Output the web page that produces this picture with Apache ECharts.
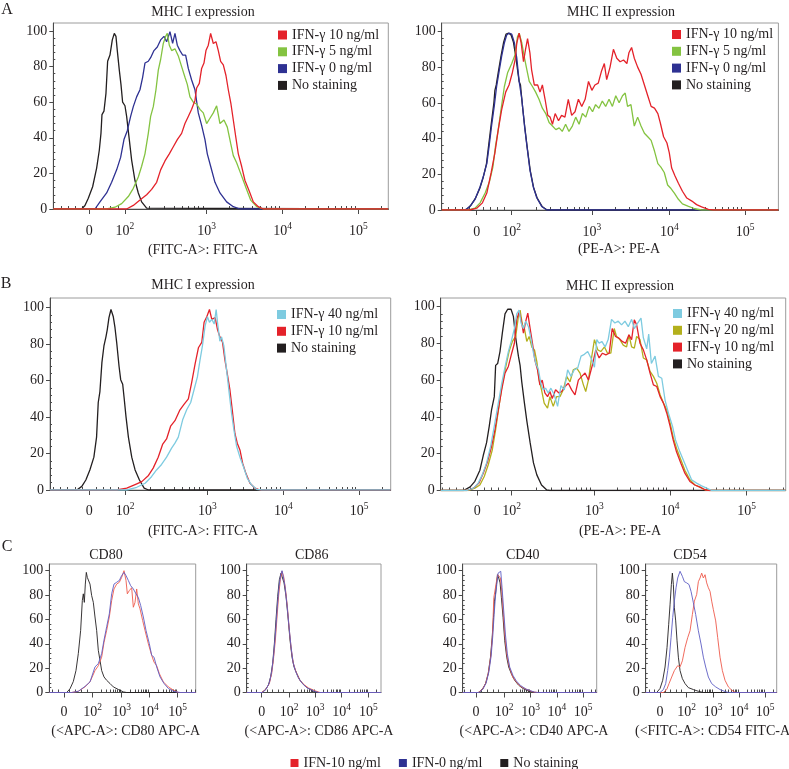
<!DOCTYPE html>
<html>
<head>
<meta charset="utf-8">
<script src="https://cdn.jsdelivr.net/npm/echarts@6/dist/echarts.min.js"></script>
<style>
  html, body { margin: 0; padding: 0; background: #fff; }
  #chart { width: 789px; height: 769px; }
</style>
</head>
<body>
<div id="chart"></div>
<script>
// flow histograms: x = display channel (logicle axis), y = % of max

// ---- tick positions (channel units) for 0, 10^2 .. 10^5 ----
const tickNames = ['0', '10|2', '10|3', '10|4', '10|5'];
const ticksA1 = [108, 215, 460, 688, 915];
const ticksA2 = [104, 208, 446, 676, 901];
const ticksB1 = [117, 224, 470, 697, 923];
const ticksB2 = [109, 212, 459, 685, 913];
const ticksCD80 = [44, 130, 217, 300, 385];
const ticksCD86 = [45, 127, 205, 285, 365];
const ticksCD40 = [40, 125, 205, 285, 364];
const ticksCD54 = [43, 123, 202, 280, 358];
const yTicks = [0, 20, 40, 60, 80, 100];

// ---- A, MHC I ----
const a1Black = [[0,0],[85,0],[95,2],[105,6],[118,12.5],[130,23],[138,33],[143,42.5],[146,53],[152,55],[158,65],[163,83],[170,86.5],[177,95],[183,98.7],[188,97],[192,89],[198,78],[203,70],[208,60],[215,58],[220,52],[228,39],[235,27.5],[245,16],[255,9],[265,4],[280,0.5],[285,0],[1005,0]];
const a1Blue = [[0,0],[125,0],[140,4],[160,9],[175,15],[190,22],[202,29],[212,39],[222,44],[232,52],[240,57.5],[250,63],[260,67],[268,74],[275,82],[285,83],[292,85],[302,89],[312,91],[322,95],[332,97],[340,94],[350,99.6],[358,93],[365,98.7],[372,92],[380,89],[388,86.5],[397,86.5],[405,79],[415,72.5],[425,67],[435,54],[445,47],[455,39],[462,31],[472,24],[485,15],[500,9],[520,4],[540,1.3],[560,0],[1005,0]];
const a1Green = [[0,0],[160,0],[185,1],[205,3],[225,7],[240,11.6],[255,18],[265,24],[275,31],[285,42.5],[292,52],[300,57.5],[308,67],[315,78],[322,84],[330,93],[337,97],[342,98.7],[348,92],[355,89],[365,90],[375,86],[385,80],[395,74],[402,70],[410,63],[420,60],[430,59],[440,56],[450,54],[460,48],[470,51],[480,54],[490,58],[500,48],[512,50],[522,46],[532,37],[540,30],[550,26],[560,21],[570,16],[580,11],[592,5],[610,1.3],[630,0],[1005,0]];
const a1Red = [[0,0],[220,0],[240,2],[260,5],[280,8],[295,11],[310,15],[322,22],[335,27],[348,31],[360,35],[372,39],[385,42.5],[395,48],[405,52],[415,56],[425,61],[430,68],[438,70.6],[445,79],[452,82],[458,89],[465,92],[472,98.7],[480,93],[488,94],[495,89],[502,83],[510,81],[518,75],[525,67],[533,59],[540,50],[547,41],[555,31],[565,24],[575,16],[588,10],[600,4],[615,1.3],[630,0],[1005,0]];

// ---- A, MHC II ----
const a2Black = [[0,0],[72,0],[86,2.5],[100,6.5],[113,12],[123,18],[133,26],[140,37],[147,48],[155,60],[158,67],[162,70],[168,77],[176,86],[184,94],[191,98.5],[199,99],[206,98],[213,94],[220,86],[227,76],[230,72],[234,70],[240,58],[247,46],[254,35],[263,22],[273,12.5],[284,6.5],[298,2],[313,0],[1000,0]];
const a2Blue = [[0,0],[69,0],[84,2],[99,6],[114,13],[124,19],[134,26],[141,36],[148,47],[156,58],[163,69],[170,77],[178,86],[186,93.5],[193,98],[200,99],[208,98.5],[216,93.5],[223,85],[230,72],[238,62],[246,47],[253,36],[262,22.5],[272,13],[282,7],[297,2],[312,0],[1000,0]];
const a2Green = [[0,0],[79,0],[99,1],[114,4],[129,9.5],[142,16],[152,24],[160,36],[168,45],[176,56],[186,69],[196,77],[208,82],[218,87],[225,97],[230,99],[238,93.5],[246,85],[253,78.5],[260,72],[270,69],[279,66],[289,62],[299,57],[309,54],[319,49],[329,47],[339,45],[349,46],[358,44],[368,48],[378,44],[388,47],[398,52],[408,48],[418,54],[428,52],[438,58],[448,55],[457,59],[467,57],[477,61],[487,58],[497,62],[507,58],[517,64],[527,60],[537,64],[545,65.5],[552,58],[562,59],[572,47],[582,52],[592,47],[602,43],[612,41],[622,39],[632,33],[642,26],[651,24],[661,21],[671,14],[681,12],[691,9.5],[703,6],[715,3.4],[733,2],[752,0.7],[772,0],[1000,0]];
const a2Red = [[0,0],[84,0],[104,1],[121,4],[134,9.5],[147,21],[158,32],[168,45],[178,56],[190,66],[200,70],[210,77],[218,84],[223,93.5],[230,99],[236,93.5],[243,83],[249,90],[255,96],[262,88],[267,78.5],[275,70],[285,70],[292,66],[299,70],[307,62],[315,53],[322,52],[329,48],[337,54],[347,50],[356,53],[366,52],[376,62],[386,53],[396,55],[406,62],[416,58],[426,62],[436,72],[446,67],[455,70],[465,71],[475,78],[483,82],[490,73],[500,80],[510,90],[520,85],[530,83],[540,84],[550,82],[556,88],[564,91],[572,85],[582,80],[592,76],[602,70],[612,64],[622,58],[632,57],[642,54],[649,49],[659,41],[669,37.5],[676,32],[683,23.5],[693,19],[703,15],[715,10.5],[728,6.7],[743,5],[757,3],[772,1.7],[792,0.4],[807,0],[1000,0]];

// ---- B, MHC I ----
const b1Black = [[0,0],[80,0],[95,2],[107,5.5],[119,11],[131,18],[139,29],[144,48],[149,54],[155,70],[161,79],[167,84],[171,88],[176,94.5],[182,99],[189,95],[194,89],[199,81],[206,68],[211,60.5],[217,58],[221,51],[227,40],[234,29],[244,18],[254,11],[267,5.5],[281,1],[294,0],[1017,0]];
const b1Red = [[0,0],[199,0],[229,1],[254,3],[274,4.6],[294,8],[308,12],[323,18],[336,25],[348,28],[360,35],[373,38],[388,44],[400,47],[413,50],[423,59],[433,69],[443,78],[453,81],[460,92],[468,95],[476,99],[483,93.6],[493,94.5],[500,88],[507,84],[515,81],[522,71.5],[529,64],[537,55],[544,44],[552,31],[559,25.7],[567,22],[575,14.7],[585,9],[597,3.7],[612,1],[627,0],[1017,0]];
const b1Cyan = [[0,0],[229,0],[259,1.5],[284,3.7],[303,7.3],[318,11],[333,14],[348,18],[363,23],[373,25.7],[383,29],[396,38.5],[408,44],[420,48],[430,55],[440,62],[448,71.5],[455,79],[463,90],[470,95],[476,92],[483,93.6],[490,91],[496,99],[500,92],[507,81.6],[512,84],[519,79],[527,66],[535,53],[542,42],[549,33],[557,24],[567,18],[577,13],[589,6.4],[602,2.7],[617,0.4],[632,0],[1017,0]];

// ---- B, MHC II ----
const b2Black = [[0,0],[68,0],[88,2],[102,5],[117,11],[127,19],[137,26],[145,35],[152,44],[160,51],[164,68],[170,69],[177,75.5],[184,85.5],[192,96],[200,98.5],[210,98.5],[217,94.6],[224,83],[232,73],[237,68],[242,59],[250,47.5],[257,38],[267,26],[277,15],[287,8.5],[301,3],[316,0.4],[326,0],[1030,0]];
const b2Olive = [[0,0],[83,0],[102,1.3],[117,3],[130,7.6],[142,14],[154,22],[164,33],[174,45.7],[184,58],[194,67],[204,75.5],[214,81],[224,83.7],[232,94.6],[237,98],[244,90],[250,88],[257,81],[264,83.7],[272,78],[280,76.4],[287,70],[294,60],[301,54.7],[309,47.5],[319,44.7],[326,51],[336,45.7],[346,51],[356,51],[366,54.7],[376,62],[386,59],[396,65.6],[406,66.5],[416,63.8],[426,57.4],[433,53.8],[441,60],[451,72.8],[459,82],[469,76.4],[478,75.5],[489,78],[498,74.6],[508,74.6],[518,88],[525,83.7],[535,82],[545,79],[555,78],[562,84.6],[570,78],[578,77.4],[585,83.7],[595,82],[605,72],[615,71],[625,64.7],[635,62],[645,58.3],[655,52],[665,47.5],[675,43.8],[685,36.6],[694,29],[704,23],[717,16.7],[729,11],[744,5.8],[759,3],[774,1.8],[789,0.4],[804,0],[1030,0]];
const b2Red = [[0,0],[78,0],[98,1.3],[114,4],[127,9.4],[140,15.8],[152,24],[162,33],[172,44],[182,54.7],[192,63.8],[202,67.4],[212,74.6],[220,80],[227,93],[234,97],[240,93],[247,85.5],[254,92],[260,96.4],[267,88],[274,80],[281,71],[289,65.6],[296,57.4],[303,60],[311,53],[319,51],[326,53.8],[333,50],[343,54.7],[353,53],[361,53.8],[371,56.5],[381,58.3],[391,54.7],[401,52],[411,60],[421,62],[431,63.8],[441,60],[453,68.3],[463,76.4],[473,72],[483,74.6],[493,73.7],[503,74.6],[512,88],[522,83.7],[532,82.8],[542,81],[552,80],[562,84.6],[570,82],[578,92.8],[585,90],[595,80],[605,76.4],[615,71],[625,63.8],[635,57.4],[645,56.5],[655,51],[665,47.5],[675,42],[685,34.8],[694,27.5],[704,21],[717,14.8],[729,9.4],[744,4.9],[759,3],[774,1.8],[789,0.4],[804,0],[1030,0]];
const b2Cyan = [[0,0],[78,0],[98,1.3],[112,4],[124,8.5],[137,15],[149,24],[160,35],[172,47.5],[182,58],[192,67],[202,75.5],[212,82],[220,88],[227,96],[234,98],[240,91],[247,88],[254,92],[262,89],[270,82],[277,74.6],[284,69],[292,65.6],[299,58],[306,54.7],[313,55.6],[321,53],[329,55.6],[339,52],[349,45.7],[359,57],[369,54.7],[379,65.6],[389,62],[399,65.6],[409,66.5],[419,73],[429,74],[439,75.5],[451,71],[459,67],[466,82],[473,80],[481,81],[491,78],[500,82],[510,93],[520,91],[530,92],[540,90],[550,92],[560,89],[570,93],[578,88],[588,91],[598,93.7],[605,83],[615,77],[621,85],[629,69],[640,73],[650,62],[660,61],[670,49],[680,42],[692,35],[701,27.5],[714,21],[724,16.7],[737,11],[749,5.8],[764,4],[779,2.5],[794,1.3],[809,0],[1030,0]];

// ---- C, CD80 / CD86 / CD40 / CD54 ----
const cd80Black = [[0,0],[52,0],[62,3],[72,9],[80,18],[87,32],[94,51],[99,75.5],[102,81],[105,74],[108,89],[111,98.6],[114,94.5],[118,93],[122,89],[127,79.6],[132,74],[137,62],[142,51],[147,34.6],[152,26.4],[157,18],[164,12.8],[172,10],[182,7.4],[192,4.6],[207,2.5],[222,0.5],[232,0],[439,0]];
const cd80Red = [[0,0],[67,0],[87,1],[107,4.6],[122,8.7],[137,18],[147,22],[157,29],[164,41],[172,51],[180,62],[187,75.5],[194,85],[202,89],[210,90.5],[217,94.5],[224,100],[230,92],[234,81],[240,83.7],[247,86],[252,70],[257,74],[262,85],[267,72.8],[272,68.7],[280,59],[287,51],[297,40],[307,30.5],[314,25],[322,22],[330,15.5],[342,8.7],[357,4.6],[372,2],[387,0],[439,0]];
const cd80Blue = [[0,0],[67,0],[87,1],[107,5],[122,8.7],[137,21],[147,23.7],[157,32],[164,43],[172,54],[180,64.6],[187,81],[194,89],[202,90.5],[210,92],[217,96],[224,98.6],[230,96],[237,92],[244,87.7],[252,85],[260,81],[267,78],[274,71.4],[282,62],[290,51],[300,40],[307,30.5],[314,29],[322,21],[332,12.8],[344,7.4],[357,3.3],[372,1],[392,0],[439,0]];
const cd86Black = [[0,0],[45,0],[55,2],[65,6],[72,13],[78,24],[83,40],[88,60],[93,79],[98,92.6],[103,98],[107,96.7],[112,90],[118,79],[124,62],[130,43],[136,29],[142,21],[150,15.7],[160,10],[172,6],[185,3.3],[200,1],[215,0],[403,0]];
const cd86Red = [[0,0],[45,0],[57,2.5],[68,7.4],[75,15.7],[80,26.6],[86,43],[91,62],[96,80],[101,92.6],[106,99.5],[111,95],[116,85.7],[122,70.6],[128,51],[134,35],[140,24],[148,17],[158,10.7],[170,6.9],[185,3.8],[205,1.4],[220,0],[403,0]];
const cd86Blue = [[0,0],[47,0],[58,2.5],[68,8],[75,17],[81,31],[87,51],[92,70.6],[97,87],[102,96.7],[106,100],[110,95],[115,87],[121,72],[127,54],[133,37.6],[139,25],[146,18],[155,12],[167,7.4],[180,4],[200,1.4],[215,0],[403,0]];
const cd40Black = [[0,0],[47,0],[59,2.4],[69,7.3],[77,15.4],[84,29],[89,45],[93,61.5],[96,75],[99,80.5],[102,88.6],[105,96.7],[109,94],[113,90],[117,77.8],[122,61.5],[127,42.5],[133,29],[139,20.9],[147,15.4],[157,10],[169,6],[182,3.3],[197,1.4],[217,0],[405,0]];
const cd40Red = [[0,0],[47,0],[60,2.7],[70,7.9],[78,16.8],[85,30],[90,46.6],[94,77.8],[98,77.8],[102,91],[106,96.7],[110,98],[114,94],[118,83],[123,64],[128,45],[134,30],[141,20.9],[151,12.7],[162,8.7],[175,5],[192,2.7],[212,0.5],[227,0],[405,0]];
const cd40Blue = [[0,0],[49,0],[61,2.7],[71,7.9],[79,16.8],[86,30],[91,46.6],[95,64],[99,79],[103,88.6],[107,98],[111,96.7],[115,99.5],[119,86],[124,67],[129,48],[135,31.7],[142,20.9],[152,14],[162,9.5],[175,5.7],[192,2.7],[217,0.3],[227,0],[405,0]];
const cd54Black = [[0,0],[33,0],[43,3.3],[51,10],[58,20.9],[64,37],[69,56],[73,72],[77,88.6],[80,98],[83,88.6],[86,69.6],[90,58.8],[94,42.5],[98,29],[103,18],[110,11.4],[118,7.3],[128,4],[143,2.4],[158,1],[173,0],[393,0]];
const cd54Red = [[0,0],[53,0],[63,2.4],[70,7.3],[78,12.7],[86,18],[96,22],[103,21],[110,26],[118,37],[126,45],[133,50.7],[140,64],[146,75],[153,80.5],[158,91],[163,94],[168,98],[173,94],[178,96.7],[183,90],[188,86],[193,83],[198,75],[203,68],[210,58.8],[216,45],[223,29],[230,18],[238,10],[248,4.6],[258,1.9],[270,0],[393,0]];
const cd54Blue = [[0,0],[43,0],[53,2.4],[60,7.3],[66,18],[71,29],[76,45],[81,61.5],[86,75],[91,86],[96,94],[103,99.5],[110,95.4],[116,91],[123,90],[130,88.6],[136,83],[143,73.7],[150,64],[158,50.7],[166,39.8],[173,29],[180,20.9],[188,12.7],[198,7.3],[210,4.6],[223,2.4],[238,0.8],[248,0],[393,0]];

const FONT = '"Liberation Serif", "DejaVu Serif", serif';
const FS = 14;
const INK = '#231f20';
const RED = '#e4222a', GREEN = '#84c341', NAVY = '#2e3192', CYAN = '#7ecbe0', OLIVE = '#b3b01c';
const C_RED = '#ee5a4c', C_BLUE = '#5d5dc4';

const panels = [
  { left: 53.3, top: 23, width: 335, height: 186, xMax: 1005, yMax: 104.5, ticks: ticksA1, lw: 1.3, margin: 12,
    legend: { left: 278, top: 28 },
    curves: [['No staining', a1Black, INK], ['IFN-γ 0 ng/ml', a1Blue, NAVY], ['IFN-γ 5 ng/ml', a1Green, GREEN], ['IFN-γ 10 ng/ml', a1Red, RED]],
    legendOrder: ['IFN-γ 10 ng/ml', 'IFN-γ 5 ng/ml', 'IFN-γ 0 ng/ml', 'No staining'] },
  { left: 441.7, top: 23, width: 336.7, height: 187, xMax: 1000, yMax: 104.7, ticks: ticksA2, lw: 1.3, margin: 12,
    legend: { left: 672, top: 27.5 },
    curves: [['No staining', a2Black, INK], ['IFN-γ 0 ng/ml', a2Blue, NAVY], ['IFN-γ 5 ng/ml', a2Green, GREEN], ['IFN-γ 10 ng/ml', a2Red, RED]],
    legendOrder: ['IFN-γ 10 ng/ml', 'IFN-γ 5 ng/ml', 'IFN-γ 0 ng/ml', 'No staining'] },
  { left: 50, top: 298, width: 340.7, height: 192, xMax: 1017, yMax: 105.3, ticks: ticksB1, lw: 1.3, margin: 11,
    legend: { left: 277, top: 307.5 },
    curves: [['No staining', b1Black, INK], ['IFN-γ 10 ng/ml', b1Red, RED], ['IFN-γ 40 ng/ml', b1Cyan, CYAN]],
    legendOrder: ['IFN-γ 40 ng/ml', 'IFN-γ 10 ng/ml', 'No staining'] },
  { left: 440.7, top: 298, width: 345, height: 192.5, xMax: 1030, yMax: 104.6, ticks: ticksB2, lw: 1.3, margin: 11,
    legend: { left: 673, top: 306.5 },
    curves: [['No staining', b2Black, INK], ['IFN-γ 20 ng/ml', b2Olive, OLIVE], ['IFN-γ 10 ng/ml', b2Red, RED], ['IFN-γ 40 ng/ml', b2Cyan, CYAN]],
    legendOrder: ['IFN-γ 40 ng/ml', 'IFN-γ 20 ng/ml', 'IFN-γ 10 ng/ml', 'No staining'] },
  { left: 49.3, top: 564, width: 146.4, height: 128.5, xMax: 439, yMax: 105.5, ticks: ticksCD80, lw: 0.9, margin: 10,
    curves: [['No staining', cd80Black, INK], ['IFN-10 ng/ml', cd80Red, C_RED], ['IFN-0 ng/ml', cd80Blue, C_BLUE]] },
  { left: 246.7, top: 564, width: 134.3, height: 128.5, xMax: 403, yMax: 105.5, ticks: ticksCD86, lw: 0.9, margin: 10,
    curves: [['No staining', cd86Black, INK], ['IFN-10 ng/ml', cd86Red, C_RED], ['IFN-0 ng/ml', cd86Blue, C_BLUE]] },
  { left: 462.7, top: 564, width: 134, height: 128.5, xMax: 405, yMax: 105.5, ticks: ticksCD40, lw: 0.9, margin: 10,
    curves: [['No staining', cd40Black, INK], ['IFN-10 ng/ml', cd40Red, C_RED], ['IFN-0 ng/ml', cd40Blue, C_BLUE]] },
  { left: 645.7, top: 564, width: 131, height: 128.5, xMax: 393, yMax: 105.5, ticks: ticksCD54, lw: 0.9, margin: 10,
    curves: [['No staining', cd54Black, INK], ['IFN-10 ng/ml', cd54Red, C_RED], ['IFN-0 ng/ml', cd54Blue, C_BLUE]] }
];

const legendColors = {
  'IFN-γ 40 ng/ml': CYAN, 'IFN-γ 20 ng/ml': OLIVE, 'IFN-γ 10 ng/ml': RED, 'IFN-γ 5 ng/ml': GREEN,
  'IFN-γ 0 ng/ml': NAVY, 'No staining': INK, 'IFN-10 ng/ml': RED, 'IFN-0 ng/ml': NAVY
};

// small ticks of the logicle axis: linear near zero, log inside each decade
function minorTicks(t, max) {
  const out = [];
  const lin = (t[1] - t[0]) / 5;
  for (let v = t[0] - lin; v > 0; v -= lin) out.push(v);
  for (let k = 1; k < 5; k++) out.push(t[0] + lin * k);
  for (let d = 1; d < t.length; d++) {
    const span = d < t.length - 1 ? t[d + 1] - t[d] : t[d] - t[d - 1];
    for (let k = 2; k < 10; k++) {
      const v = t[d] + span * Math.log10(k);
      if (v < max) out.push(v);
    }
  }
  return out;
}
const yMinor = [];
for (let v = 4; v < 100; v += 4) if (v % 20) yMinor.push(v);

const rich = {
  b: { fontFamily: FONT, fontSize: FS, color: INK, lineHeight: 17, verticalAlign: 'bottom' },
  s: { fontFamily: FONT, fontSize: 9.5, color: INK, lineHeight: 10, verticalAlign: 'top' }
};

const grid = [], xAxis = [], yAxis = [], series = [], legend = [];

panels.forEach((p, i) => {
  grid.push({ left: p.left, top: p.top, width: p.width, height: p.height,
    show: true, borderColor: '#9c9c9c', borderWidth: 1, backgroundColor: 'transparent' });

  xAxis.push({
    gridIndex: i, type: 'value', min: 0, max: p.xMax,
    axisLine: { show: true, onZero: false, lineStyle: { color: '#4a4a4a', width: 1 } },
    axisTick: { show: true, customValues: p.ticks, length: 5, lineStyle: { color: '#4a4a4a' } },
    axisLabel: {
      customValues: p.ticks, margin: p.margin, rich: rich,
      formatter: v => {
        const name = tickNames[p.ticks.indexOf(v)] || '';
        const parts = name.split('|');
        return parts.length > 1 ? '{b|' + parts[0] + '}{s|' + parts[1] + '}' : '{b|' + parts[0] + '}';
      }
    },
    splitLine: { show: false }
  });
  xAxis.push({
    gridIndex: i, type: 'value', min: 0, max: p.xMax,
    axisLine: { show: false },
    axisTick: { show: true, customValues: minorTicks(p.ticks, p.xMax), length: 3, lineStyle: { color: '#4a4a4a' } },
    axisLabel: { show: false },
    splitLine: { show: false }
  });

  yAxis.push({
    gridIndex: i, type: 'value', min: 0, max: p.yMax,
    axisLine: { show: true, lineStyle: { color: '#4a4a4a', width: 1 } },
    axisTick: { show: true, customValues: yTicks, length: 4, lineStyle: { color: '#4a4a4a' } },
    axisLabel: { customValues: yTicks, margin: 6, fontFamily: FONT, fontSize: FS, color: INK },
    splitLine: { show: false }
  });
  yAxis.push({
    gridIndex: i, type: 'value', min: 0, max: p.yMax,
    axisLine: { show: false },
    axisTick: { show: true, customValues: yMinor, length: 2, lineStyle: { color: '#4a4a4a' } },
    axisLabel: { show: false },
    splitLine: { show: false }
  });

  p.curves.forEach(c => {
    series.push({
      type: 'line', name: c[0], data: c[1],
      xAxisIndex: i * 2, yAxisIndex: i * 2,
      symbol: 'none', showSymbol: false, silent: true,
      lineStyle: { color: c[2], width: p.lw },
      itemStyle: { color: c[2] }
    });
  });

  if (p.legend) {
    legend.push({
      orient: 'vertical', left: p.legend.left, top: p.legend.top,
      icon: 'rect', itemWidth: 9, itemHeight: 9, itemGap: 2.8, itemTextGap: 6,
      selectedMode: false, padding: 0,
      textStyle: { fontFamily: FONT, fontSize: FS, color: INK, lineHeight: 14 },
      data: p.legendOrder.map(n => ({ name: n, itemStyle: { color: legendColors[n] } }))
    });
  }
});

legend.push({
  orient: 'horizontal', left: 290.5, top: 756,
  icon: 'rect', itemWidth: 8, itemHeight: 8, itemGap: 18, itemTextGap: 6,
  selectedMode: false, padding: 0,
  textStyle: { fontFamily: FONT, fontSize: FS, color: INK, lineHeight: 14 },
  data: ['IFN-10 ng/ml', 'IFN-0 ng/ml', 'No staining'].map(n => ({ name: n, itemStyle: { color: legendColors[n] } }))
});

const labels = [
  ['A', 7, 10, 16], ['B', 6, 284, 16], ['C', 7, 547, 16],
  ['MHC I expression', 203, 12, FS], ['MHC II expression', 621, 12, FS],
  ['MHC I expression', 203, 285, FS], ['MHC II expression', 620, 286, FS],
  ['CD80', 106, 555.5, FS], ['CD86', 311.7, 555.5, FS], ['CD40', 522.7, 555.5, FS], ['CD54', 690, 555.5, FS],
  ['(FITC-A>: FITC-A', 203, 250, FS], ['(PE-A>: PE-A', 619, 249.5, FS],
  ['(FITC-A>: FITC-A', 203, 531, FS], ['(PE-A>: PE-A', 620, 531, FS],
  ['(<APC-A>: CD80 APC-A', 125.7, 731.7, FS], ['(<APC-A>: CD86 APC-A', 319, 731.7, FS],
  ['(<APC-A>: CD40 APC-A', 534, 731.7, FS], ['(<FITC-A>: CD54 FITC-A', 712.5, 731.7, FS]
];

const chart = echarts.init(document.getElementById('chart'), null, { renderer: 'canvas' });
chart.setOption({
  animation: false,
  backgroundColor: '#fff',
  grid, xAxis, yAxis, series, legend,
  graphic: labels.map(l => ({
    type: 'text', x: l[1], y: l[2], silent: true,
    style: { text: l[0], font: l[3] + 'px ' + FONT, fill: INK, align: 'center', verticalAlign: 'middle' }
  }))
});
</script>
</body>
</html>
